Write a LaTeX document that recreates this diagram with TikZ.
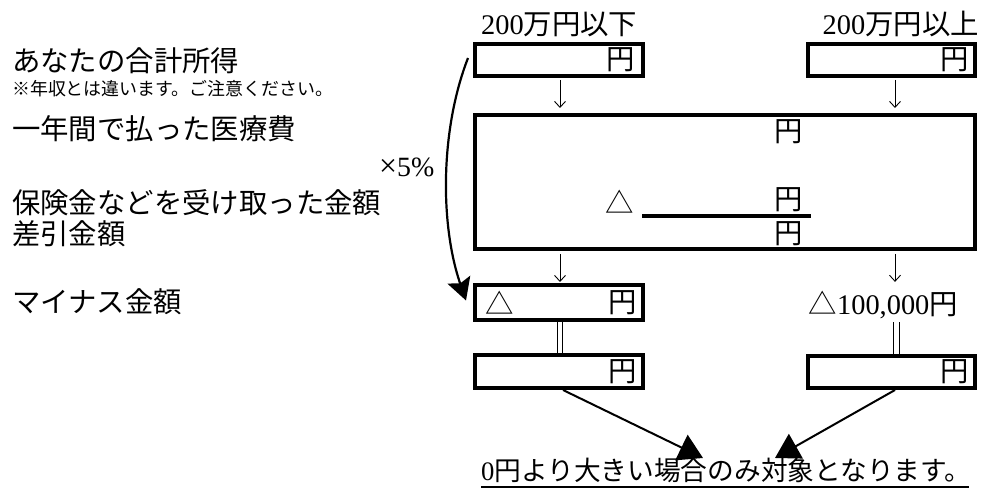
\documentclass[tikz,border=0pt]{standalone}
\usepackage{fontspec}
\setmainfont{Liberation Serif}
\newfontfamily\jp{Noto Sans CJK JP}
\usetikzlibrary{arrows.meta,calc}
\begin{document}
\begin{tikzpicture}[x=1bp,y=-1bp,
  box/.style={draw,line width=4bp,inner sep=0,rectangle},
  txt/.style={inner sep=0,font=\fontsize{28.5}{34}\selectfont},
  small/.style={inner sep=0,font=\fontsize{18}{21}\selectfont},
  darr/.style={line width=0.9bp,-{Straight Barb[length=6bp,width=11bp]}},
  eqline/.style={double,double distance=4.6bp,line width=0.9bp},
  bigarr/.style={line width=2bp,-{Triangle[length=24bp,width=28bp]}},
  curvarr/.style={line width=2.2bp,-{Stealth[length=22bp,width=24bp,inset=4bp]}},
  bar/.style={line width=4bp}]
\useasboundingbox (0,0) rectangle (981,491);

% left column labels
\node[txt,anchor=west] (l1) at (12,60.5) {\jp あなたの合計所得};
\node[small,anchor=west] (l2) at (12,88.5) {\jp ※年収とは違います。ご注意ください。};
\node[txt,anchor=west] (l3) at (12,129) {\jp 一年間で払った医療費};
\node[txt,anchor=west] (l4) at (12,203) {\jp 保険金などを受け取った金額};
\node[txt,anchor=west] (l5) at (12,234) {\jp 差引金額};
\node[txt,anchor=west] (l6) at (12,302) {\jp マイナス金額};
\node[inner sep=0,font=\fontsize{28}{32}\selectfont,anchor=west] (x5) at (379,167) {{\fontsize{32}{32}\selectfont ×}5\%};

% headers
\node[txt,anchor=west] (h1) at (481,24) {200{\jp 万円以下}};
\node[txt,anchor=east] (h2) at (979,24) {200{\jp 万円以上}};

% boxes
\node[box,minimum width=168bp,minimum height=32bp] (b1) at (559,60) {};
\node[box,minimum width=167bp,minimum height=32bp] (b2) at (891.5,60) {};
\node[box,minimum width=500bp,minimum height=134bp] (big) at (725,182) {};
\node[box,minimum width=168bp,minimum height=35bp] (b3) at (559,302.5) {};
\node[box,minimum width=168bp,minimum height=33bp] (b4) at (559,371.5) {};
\node[box,minimum width=167bp,minimum height=32bp] (b5) at (891.5,372) {};

% texts in boxes
\node[txt] (y1) at (621,60) {\jp 円};
\node[txt] (y2) at (955,60) {\jp 円};
\node[txt] (y3) at (789,132) {\jp 円};
\node[txt] (tri1) at (620,202) {\jp △};
\node[txt] (y4) at (789,200) {\jp 円};
\node[txt] (y5) at (789,234) {\jp 円};
\node[txt] (tri2) at (500,303) {\jp △};
\node[txt] (y6) at (623,303) {\jp 円};
\node[txt,anchor=east] (r100) at (958,305) {{\jp △}100,000{\jp 円}};
\node[txt] (y7) at (623,372) {\jp 円};
\node[txt] (y8) at (955,372) {\jp 円};

% subtraction bar
\coordinate (bar1) at (642,216);
\coordinate (bar2) at (811,216);
\draw[bar] (bar1) -- (bar2);

% bottom text
\node[inner sep=0,font=\fontsize{26.8}{32}\selectfont,anchor=west] (bot) at (481,470) {0{\jp 円より大きい場合のみ対象となります。}};
\draw[line width=2bp] ($(bot.west)+(0,17)$) -- ($(bot.east)+(-2,17)$);

% small down arrows
\draw[darr] ($(b1.south)+(1,2)$) -- ($(big.north -| b1.south)+(1,-5)$);
\draw[darr] ($(b2.south)+(3.5,2)$) -- ($(big.north -| b2.south)+(3.5,-5)$);
\draw[darr] ($(big.south -| b3.north)+(1,3)$) -- ($(b3.north)+(1,-1)$);
\coordinate (r100top) at ($(r100.north -| b5.north)+(3.5,-9)$);
\draw[darr] ($(big.south -| b5.north)+(3.5,3)$) -- (r100top);

% equal signs
\draw[eqline] ($(b3.south)+(1,0)$) -- ($(b4.north)+(1,0)$);
\coordinate (r100bot) at ($(r100.south -| b5.north)+(5,3)$);
\draw[eqline] (r100bot) -- ($(b5.north)+(5,0)$);

% arrows to bottom text
\coordinate (t1) at (703,458);
\coordinate (t2) at (775,458);
\draw[bigarr] ($(b4.south)+(4,0)$) -- (t1);
\draw[bigarr] ($(b5.south)+(3.5,0)$) -- (t2);

% curved x5% arrow
\coordinate (c0) at ($(b1.west)+(-5,-2)$);
\coordinate (c1) at ($(b3.west)+(-7,-2)$);
\draw[curvarr] (c0) .. controls (440,130) and (440,225) .. (c1);
\end{tikzpicture}
\end{document}
